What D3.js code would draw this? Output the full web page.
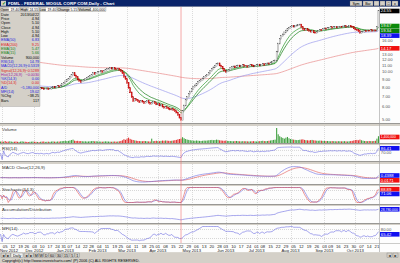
<!DOCTYPE html>
<html><head><meta charset="utf-8">
<script src="https://cdn.jsdelivr.net/npm/d3@7"></script>
<style>
body{margin:0;background:#d4d0c8;overflow:hidden}
svg{display:block;font-family:"Liberation Sans",Arial,sans-serif}
</style>
</head><body><svg id="c" width="400" height="263"></svg>
<script>
const title = "FDML - FEDERAL MOGUL CORP COM,Daily - Chart";
const startDate = "2012-10-31";
const holidays = ["2012-11-22","2012-12-25","2013-01-01","2013-01-21","2013-02-18","2013-03-29","2013-05-27","2013-07-04","2013-09-02"];
const closes = [
8.00,7.95,8.05,7.90,7.80,7.70,7.85,7.95,8.10,8.00, 7.90,7.75,7.80,7.95,8.05,8.15,8.00,7.90,7.85,7.95,
8.05,8.10,7.95,7.85,7.90,7.80,7.90,7.85,7.75,7.80, 7.85,7.75,7.80,7.95,8.05,7.95,8.00,8.10,8.05,8.20,
8.35,8.50,8.70,8.85,9.05,9.30,9.55,9.80,9.50,9.25, 8.95,8.75,8.60,8.75,8.90,9.05,9.15,9.30,9.45,9.60,
9.80,9.70,9.85,9.95,10.05,10.10,10.00,10.15,10.30,10.40, 10.45,10.55,10.50,10.60,10.45,10.40,10.50,10.30,10.10,9.80,
9.30,9.00,8.50,7.90,7.40,6.90,6.50,6.70,6.60,6.50, 6.40,6.55,6.45,6.30,6.40,6.50,6.35,6.25,6.30,6.40,
6.30,6.20,6.25,6.10,6.15,6.00,5.90,5.95,5.85,5.80, 5.75,5.80,5.70,5.60,5.50,5.30,5.10,4.94,5.60,6.10,
6.60,6.90,7.20,7.50,7.80,8.00,8.20,8.40,8.60,8.75, 8.90,9.10,9.25,9.40,9.60,9.85,10.10,10.40,10.70,10.95,
11.20,11.35,11.00,10.80,10.50,10.20,10.00,10.10,10.35,10.60, 10.75,10.85,10.70,10.90,11.00,10.85,10.95,11.05,10.90,10.90,
10.80,10.95,11.10,11.00,10.85,10.95,11.05,11.15,11.00,11.10, 11.20,11.10,11.25,11.35,11.30,11.50,11.60,11.70,11.85,13.50,
15.20,16.20,16.90,17.40,17.90,18.40,18.80,19.20,19.40,19.60, 19.50,19.70,19.85,19.95,20.10,19.40,18.80,18.60,18.90,18.50,
18.30,18.10,18.30,17.90,17.80,18.00,18.30,18.60,18.50,18.80, 19.00,18.90,19.10,19.15,19.30,19.20,19.35,19.40,19.25,19.45,
19.50,19.40,19.55,19.60,19.45,19.50,19.65,19.55,19.40,19.00, 18.70,18.50,18.20,17.80,17.95,18.10,18.30,18.20,18.40,18.35,
18.50,18.30,18.45,18.40,19.40,24.55];
// volume, thousands of shares
const volumes = [
300,320,280,410,260,300,350,290,240,270, 310,250,220,300,340,280,260,230,210,250,
280,300,260,240,220,180,260,290,310,230, 250,270,240,300,330,280,260,310,290,350,
380,420,460,390,440,520,610,700,480,420, 450,380,400,360,330,350,300,320,360,380,
420,340,360,330,310,290,270,300,340,320, 300,280,260,290,310,270,300,350,420,560,
780,650,900,1100,850,700,620,540,480,420, 400,380,360,420,390,350,330,310,900,380,
420,460,400,380,440,500,470,520,480,450, 430,460,520,580,640,760,820,900,1200,980,
820,700,640,580,520,490,460,520,480,440, 420,460,500,480,520,560,600,640,580,620,
700,650,560,520,480,460,500,440,420,400, 380,360,400,420,380,360,340,380,360,360,
340,320,340,360,380,340,320,360,380,420, 460,400,380,420,460,520,580,640,700,3100,
1800,1400,1200,1050,900,1100,1250,980,820,760, 700,640,600,620,680,720,760,640,580,560,
520,600,640,560,520,480,460,500,480,440, 420,400,420,380,360,400,380,360,340,380,
360,340,360,380,340,320,360,400,440,520, 600,640,560,700,560,480,420,400,380,420,
400,380,420,460,900,1400];
const ema50Seed = 8.5, ema200Seed = 12.6;
const cursorIndex = 117;
const priceTicks = [5,6,7,8,9,10,11,12,13,14,15,16,17,18];
const panelTitles = ["Volume","RSI(14)","MACD Close(12,26,9)","Stochastic(14,3)","Accumulation/Distribution","MFI(14)"];

// ---------- derived series ----------
const N = closes.length;
const opens = closes.map((c,i)=> i===0 ? c : closes[i-1]);
function ema(a,n,seed){const k=2/(n+1);let e=seed==null?a[0]:seed;return a.map((v,i)=>{e=(i===0&&seed==null)?v:e+k*(v-e);return e;});}
const ema10 = ema(closes,10), ema15 = ema(closes,15), ema50 = ema(closes,50,ema50Seed), ema200 = ema(closes,200,ema200Seed);
function rsiCalc(a,n){let g=0,l=0;return a.map((v,i)=>{if(i===0)return 50;const d=v-a[i-1],up=Math.max(d,0),dn=Math.max(-d,0);
 if(i<=n){g+=up/n;l+=dn/n;}else{g=(g*(n-1)+up)/n;l=(l*(n-1)+dn)/n;}return l===0?100:100-100/(1+g/l);});}
const rsi = rsiCalc(closes,14);
const e12=ema(closes,12), e26=ema(closes,26);
const macd = closes.map((c,i)=>e12[i]-e26[i]);
const signal = ema(macd,9);
const sma=(a,n)=>a.map((v,i)=>d3.mean(a.slice(Math.max(0,i-n+1),i+1)));
const rawK = closes.map((c,i)=>{const w=closes.slice(Math.max(0,i-13),i+1);const lo=d3.min(w),hi=d3.max(w);return hi===lo?50:(c-lo)/(hi-lo)*100;});
const pctK = sma(rawK,3), pctD = sma(pctK,3);
let acc=0;
const ad = closes.map((c,i)=>{const o=opens[i];acc += c>o? volumes[i]*1000 : c<o? -volumes[i]*1000 : 0;return acc;});
const mf = closes.map((c,i)=>c*volumes[i]);
const mfi = closes.map((c,i)=>{let p=0,q=0;for(let j=Math.max(1,i-13);j<=i;j++){if(closes[j]>closes[j-1])p+=mf[j];else if(closes[j]<closes[j-1])q+=mf[j];}return q===0?(p===0?50:100):100-100/(1+p/q);});

// dates
const fmtISO=d3.timeFormat("%Y-%m-%d");
const hol=new Set(holidays);
const dates=[];
for(let d=d3.timeParse("%Y-%m-%d")(startDate); dates.length<N; d=d3.timeDay.offset(d,1)){
  const wd=d.getDay(); if(wd!==0&&wd!==6&&!hol.has(fmtISO(d))) dates.push(d);
}

// ---------- layout ----------
const svg=d3.select("#c");
const PW=379;
const x=d3.scaleBand().domain(d3.range(N)).range([0,PW]).paddingInner(0.3);
const cx=i=>x(i)+x.bandwidth()/2;
const panels={main:[7,123],vol:[126,143],rsi:[145,161],macd:[164,184],stoch:[186,204],ad:[206,223],mfi:[225,243]};
svg.append("rect").attr("width",400).attr("height",263).attr("fill","#d4d0c8");
Object.values(panels).forEach(([a,b])=>{
  svg.append("rect").attr("x",0).attr("y",a).attr("width",400).attr("height",b-a).attr("fill","#fdfdfd");
  svg.append("line").attr("x1",0).attr("x2",400).attr("y1",b+0.5).attr("y2",b+0.5).attr("stroke","#808080").attr("stroke-width",0.7);
});
svg.append("rect").attr("x",0).attr("y",243.5).attr("width",400).attr("height",8.8).attr("fill","#fdfdfd");
svg.append("line").attr("x1",PW+0.5).attr("x2",PW+0.5).attr("y1",7).attr("y2",252).attr("stroke","#a0a0a0").attr("stroke-width",0.6);

const monthStarts=d3.range(1,N).filter(i=>dates[i].getMonth()!==dates[i-1].getMonth());
const weekStarts=d3.range(1,N).filter(i=>+d3.timeMonday.floor(dates[i])!==+d3.timeMonday.floor(dates[i-1]));
Object.values(panels).forEach(([a,b])=>{
  svg.append("g").selectAll("line").data(monthStarts).join("line")
   .attr("x1",i=>Math.round(cx(i))+0.5).attr("x2",i=>Math.round(cx(i))+0.5).attr("y1",a).attr("y2",b)
   .attr("stroke","#b8b8b8").attr("stroke-width",0.5).attr("stroke-dasharray","1,1");
});

// ---------- main price ----------
const y=d3.scaleLog().domain([5,24.55]).range([119,11]);
const line=(arr,ys)=>d3.line().x((d,i)=>cx(i)).y(d=>ys(d))(arr);
svg.append("path").attr("d",line(ema200,y)).attr("fill","none").attr("stroke","#e88a8a").attr("stroke-width",0.7);
svg.append("path").attr("d",line(ema50,y)).attr("fill","none").attr("stroke","#9a9aec").attr("stroke-width",0.7);
svg.append("path").attr("d",line(ema15,y)).attr("fill","none").attr("stroke","#107a10").attr("stroke-width",0.7);
svg.append("path").attr("d",line(ema10,y)).attr("fill","none").attr("stroke","#2a9a2a").attr("stroke-width",0.7);
const cg=svg.append("g");
cg.selectAll("rect").data(closes).join("rect")
  .attr("x",(c,i)=>x(i)).attr("width",x.bandwidth())
  .attr("y",(c,i)=>y(Math.max(c,opens[i]))-0.5)
  .attr("height",(c,i)=>Math.max(1.2,y(Math.min(c,opens[i]))-y(Math.max(c,opens[i]))+1))
  .attr("fill",(c,i)=>c<opens[i]?"#e01818":"#ffffff")
  .attr("stroke",(c,i)=>c<opens[i]?"#b00000":"#505050").attr("stroke-width",0.3);

// ---------- volume ----------
const [v0,v1]=panels.vol;
const yv=d3.scaleLinear().domain([0,d3.max(volumes)]).range([v1,v0+2]);
svg.append("g").selectAll("rect").data(volumes).join("rect")
  .attr("x",(v,i)=>x(i)).attr("width",x.bandwidth()).attr("y",v=>yv(v)).attr("height",v=>v1-yv(v))
  .attr("fill",(v,i)=>closes[i]<opens[i]?"#e03030":"#40a040");

// ---------- oscillators ----------
function oscPanel(key,domain,series,levels){
  const [a,b]=panels[key];
  const ys=d3.scaleLinear().domain(domain).range([b-1.5,a+1.5]);
  levels.forEach(l=>svg.append("line").attr("x1",0).attr("x2",PW).attr("y1",ys(l)).attr("y2",ys(l))
     .attr("stroke","#b0b0b0").attr("stroke-width",0.5).attr("stroke-dasharray","1,1"));
  series.forEach(s=>svg.append("path").attr("d",line(s.data,ys)).attr("fill","none").attr("stroke",s.color).attr("stroke-width",0.6));
  return ys;
}
const yr=oscPanel("rsi",[0,100],[{data:rsi,color:"#6a6ae0"}],[30,70]);
const mext=d3.extent(macd.concat(signal));
const ym=oscPanel("macd",[mext[0]*1.1,mext[1]*1.1],[{data:signal,color:"#e05050"},{data:macd,color:"#6a6ae0"}],[0]);
const ys=oscPanel("stoch",[0,100],[{data:pctD,color:"#6a6ae0"},{data:pctK,color:"#e05050"}],[20,80]);
const aext=d3.extent(ad);
const ya=oscPanel("ad",[aext[0]-(aext[1]-aext[0])*0.15,aext[1]+(aext[1]-aext[0])*0.15],[{data:ad,color:"#6a6ae0"}],[]);
const yf=oscPanel("mfi",[0,100],[{data:mfi,color:"#6a6ae0"}],[20,80]);

Object.keys(panels).slice(1).forEach((k,j)=>{
  svg.append("text").attr("x",2).attr("y",panels[k][0]+4.6).attr("font-size",4.4).attr("fill","#333").text(panelTitles[j]);
});

svg.append("line").attr("x1",cx(cursorIndex)).attr("x2",cx(cursorIndex)).attr("y1",7).attr("y2",243)
  .attr("stroke","#f07070").attr("stroke-width",0.6);

// ---------- right axis ----------
const f2=d3.format(".2f");
function boxes(items,lo,hi){
  items.sort((p,q)=>p.y-q.y);
  let last=-1e9;
  items.forEach(it=>{let yy=Math.max(it.y,last+4.8);if(lo!=null)yy=Math.max(yy,lo+2.6);it.yy=yy;last=yy;});
  items.forEach(it=>{
    if(it.bg) svg.append("rect").attr("x",380).attr("y",it.yy-2.3).attr("width",19.5).attr("height",4.6).attr("fill",it.bg);
    const fs=it.t.length>8?3.4:4.2;
    svg.append("text").attr("x",380.8).attr("y",it.yy+1.4).attr("font-size",fs).attr("fill",it.bg?"#fff":"#555").text(it.t);
  });
}
const L=N-1;
boxes([{y:y(closes[L]),bg:"#000",t:f2(closes[L])},{y:y(ema10[L]),bg:"#0a8a0a",t:f2(ema10[L])},
  {y:y(ema15[L]),bg:"#0a7a0a",t:f2(ema15[L])},{y:y(ema50[L]),bg:"#1010f0",t:f2(ema50[L])},{y:y(ema200[L]),bg:"#f01010",t:f2(ema200[L])}]);
const boxYs=[closes[L],ema10[L],ema15[L],ema50[L],ema200[L]].map(v=>y(v));
svg.append("g").selectAll("text").data(priceTicks.filter(d=>y(d)>40 && boxYs.every(b=>Math.abs(b-y(d))>4)||y(d)>50)).join("text")
  .attr("x",382).attr("y",d=>y(d)+1.5).attr("font-size",4.2).attr("fill","#555").text(d=>f2(d));
const fc=d3.format(",.0f");
boxes([{y:Math.max(yv(volumes[L]),137),bg:"#f01010",t:fc(volumes[L]*1000)}]);
boxes([{y:yr(70),bg:null,t:"70.00"},{y:yr(rsi[L]),bg:"#1010f0",t:f2(rsi[L])}],panels.rsi[0]);
const f4=d3.format(".4f");
boxes([{y:ym(macd[L]),bg:"#1010f0",t:f4(macd[L])},{y:ym(signal[L]),bg:"#f01010",t:f4(signal[L])}],panels.macd[0]);
boxes([{y:ys(pctD[L]),bg:"#1010f0",t:f2(pctD[L])},{y:ys(pctK[L]),bg:"#f01010",t:f2(pctK[L])}],panels.stoch[0]);
boxes([{y:ya(ad[L]),bg:"#1010f0",t:fc(ad[L])}],panels.ad[0]);
boxes([{y:yf(80),bg:null,t:"80.00"},{y:yf(mfi[L]),bg:"#1010f0",t:f2(mfi[L])}],panels.mfi[0]);

// ---------- date axis ----------
const fd=d3.timeFormat("%d"), fm=d3.timeFormat("%b %Y");
svg.append("g").selectAll("text").data(weekStarts).join("text")
  .attr("x",i=>cx(i)).attr("y",247.6).attr("text-anchor","middle").attr("font-size",4.2).attr("fill","#222").text(i=>fd(dates[i]));
svg.append("g").selectAll("text").data(monthStarts).join("text")
  .attr("x",i=>Math.max(cx(i),9)).attr("y",251.6).attr("text-anchor","middle").attr("font-size",4.2).attr("fill","#222").text(i=>fm(dates[i]));

// scrollbar & status
svg.append("rect").attr("x",0).attr("y",252.5).attr("width",400).attr("height",5.5).attr("fill","#d4d0c8");
[[1,"◄"],[6,"►"],[11,"Daily"],[24,"◄"],[29,"►"],[34,"M"],[39,"W"],[44,"D"],[49,"60"],[56,"30"],[63,"15"],[70,"5"],[75,"1"]].forEach(([bx,t],k)=>{
  const w=t==="Daily"?12:(t.length>1?6:4.5);
  svg.append("rect").attr("x",bx).attr("y",253).attr("width",w).attr("height",4.5).attr("fill",k===2?"#f0f0f0":"#d4d0c8").attr("stroke","#808080").attr("stroke-width",0.4);
  svg.append("text").attr("x",bx+w/2).attr("y",256.6).attr("text-anchor","middle").attr("font-size",3.6).attr("fill","#000").text(t);
});
[[387,"◄"],[393,"►"]].forEach(([bx,t])=>{
  svg.append("rect").attr("x",bx).attr("y",253).attr("width",5).attr("height",4.5).attr("fill","#d4d0c8").attr("stroke","#808080").attr("stroke-width",0.4);
  svg.append("text").attr("x",bx+2.5).attr("y",256.6).attr("text-anchor","middle").attr("font-size",3.6).text(t);
});
svg.append("text").attr("x",2).attr("y",262).attr("font-size",3.8).attr("fill","#000")
  .text("Copyright(c) http://www.investcharts.com/ (P) 2006 (C) ALL RIGHTS RESERVED.");

// ---------- title bar ----------
svg.append("rect").attr("x",0).attr("y",0).attr("width",400).attr("height",6.5).attr("fill","#0a246a");
svg.append("rect").attr("x",1).attr("y",0.8).attr("width",5).attr("height",5).attr("fill","#d4d0c8");
svg.append("text").attr("x",1.6).attr("y",5).attr("font-size",4.5).attr("fill","#080").attr("font-weight","bold").text("✓");
svg.append("text").attr("x",8).attr("y",4.9).attr("font-size",4.4).attr("font-weight","bold").attr("fill","#fff").text(title);
[[350,12,"Sym"],[363,10,"Bar"],[374,5,""],[380,5,"_"],[386,5,"□"],[392,6,"x"]].forEach(([bx,w,t])=>{
  svg.append("rect").attr("x",bx).attr("y",1).attr("width",w).attr("height",4.8).attr("fill","#d4d0c8").attr("stroke","#606060").attr("stroke-width",0.3);
  svg.append("text").attr("x",bx+w/2).attr("y",4.8).attr("text-anchor","middle").attr("font-size",3.6).attr("fill","#000").text(t);
});

// toolbar strip
const strip=[["Open",f2(opens[L])],["High",f2(Math.max(opens[L],closes[L]))],["Low",f2(Math.min(opens[L],closes[L]))],["Change",f2(closes[L]-opens[L])],["Volume",fc(volumes[L]*1000)]];
const stripW=[20,19,18,21,28];
let sx=0;
strip.forEach(([k,v],j)=>{
  const w=stripW[j];
  svg.append("rect").attr("x",sx).attr("y",7).attr("width",w).attr("height",4.6).attr("fill","#d4d0c8").attr("stroke","#909090").attr("stroke-width",0.3);
  svg.append("text").attr("x",sx+0.6).attr("y",10.5).attr("font-size",3.5).attr("fill","#000").text(k);
  const lw=k.length*1.9+1.2;
  svg.append("rect").attr("x",sx+lw).attr("y",7.5).attr("width",w-lw-0.5).attr("height",3.6).attr("fill","#fff");
  svg.append("text").attr("x",sx+w-0.8).attr("y",10.5).attr("text-anchor","end").attr("font-size",3.5).attr("fill","#000").text(v);
  sx+=w;
});

// ---------- info panel ----------
const ci=cursorIndex;
const fdate=d3.timeFormat("%Y/%m/%d");
const rows=[
 ["Date",fdate(dates[ci]),"#000"],["Price",f2(closes[ci]),"#000"],["Open",f2(opens[ci]),"#000"],["Close",f2(closes[ci]),"#000"],
 ["High",f2(Math.max(opens[ci],closes[ci])),"#000"],["Low",f2(Math.min(opens[ci],closes[ci])),"#000"],
 ["EMA(50)",f2(ema50[ci]),"#2020e0"],["EMA(200)",f2(ema200[ci]),"#e02020"],["EMA(10)",f2(ema10[ci]),"#108010"],["EMA(15)",f2(ema15[ci]),"#108010"],
 ["Volume",fc(volumes[ci]*1000),"#000"],["RSI(14)",f2(rsi[ci]),"#2020e0"],["MACD(12,26,9)",f4(macd[ci]),"#2020e0"],
 ["Signal(12,26,9)",f4(signal[ci]),"#e02020"],["Hist(12,26,9)",f4(macd[ci]-signal[ci]),"#a020a0"],
 ["%K(14,3)",f2(pctK[ci]),"#2020e0"],["%D(14,3)",f2(pctD[ci]),"#e02020"],["A/D",fc(ad[ci]),"#2020e0"],["MFI(14)",f2(mfi[ci]),"#2020e0"],
 ["%Chg",f2((closes[ci]/closes[0]-1)*100),"#000"],["Bars",String(ci),"#000"]];
svg.append("rect").attr("x",0).attr("y",11.6).attr("width",40).attr("height",95).attr("fill","#d4d0c8").attr("stroke","#909090").attr("stroke-width",0.3);
rows.forEach(([k,v,c],j)=>{
  const yy=15.6+j*4.3;
  svg.append("text").attr("x",1).attr("y",yy).attr("font-size",3.7).attr("fill",c).text(k);
  svg.append("text").attr("x",39).attr("y",yy).attr("text-anchor","end").attr("font-size",3.7).attr("fill",c).text(v);
});
</script></body></html>
